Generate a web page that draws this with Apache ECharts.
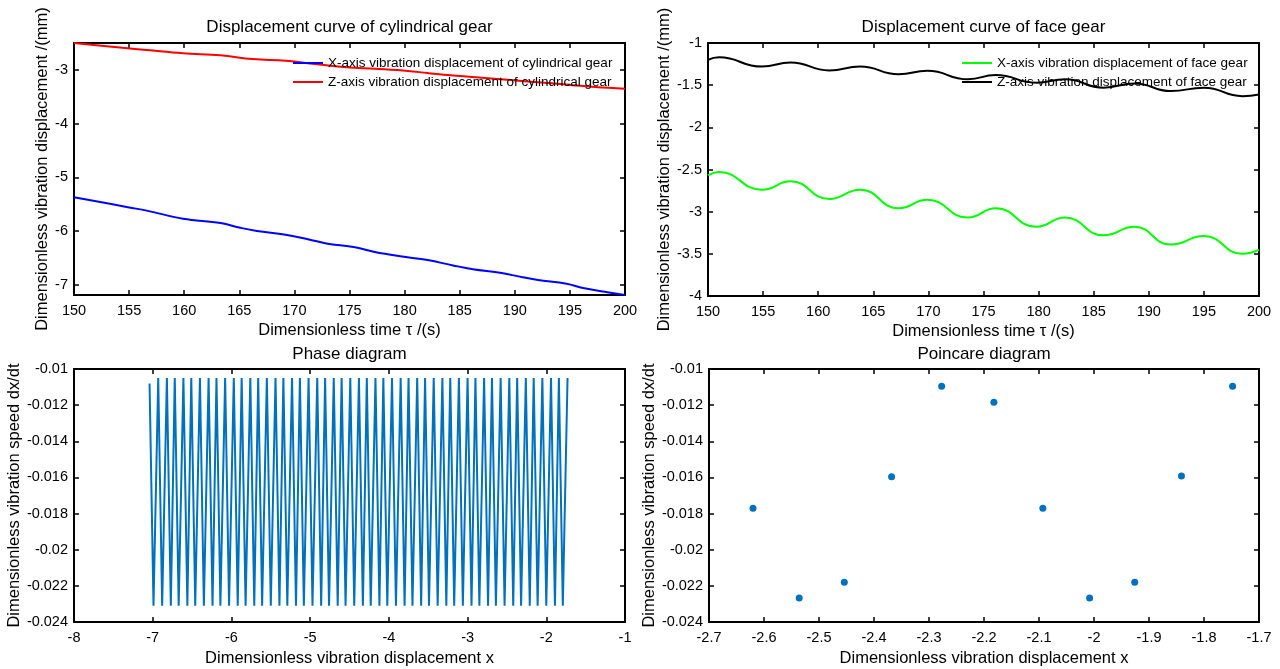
<!DOCTYPE html>
<html>
<head>
<meta charset="utf-8">
<script src="https://cdn.jsdelivr.net/npm/echarts@6/dist/echarts.min.js"></script>
<style>
html,body{margin:0;padding:0;background:#fff;}
#chart{width:1280px;height:669px;}
</style>
</head>
<body>
<div id="chart"></div>
<script>
// ---- Data ----
const cylZTime = [150,154.4,156.6,159.9,163.3,166.2,169.2,171.4,174.7,177.3,180.3,182.1,184.7,187.3,189.6,192.1,195.1,197.3,200];
const cylZ = [-2.5,-2.59,-2.63,-2.69,-2.73,-2.8,-2.83,-2.88,-2.95,-2.98,-3.02,-3.06,-3.11,-3.15,-3.19,-3.23,-3.28,-3.32,-3.35];
const cylXTime = [150,155.0,156.6,159.9,163.3,165.1,166.6,169.2,171.4,172.9,175.5,177.3,179.6,182.1,184.4,186.2,188.8,190.7,192.1,194.7,196.2,198.4,200];
const cylX = [-5.37,-5.56,-5.62,-5.77,-5.85,-5.94,-6.0,-6.07,-6.16,-6.23,-6.3,-6.39,-6.47,-6.54,-6.64,-6.71,-6.78,-6.86,-6.91,-6.98,-7.06,-7.14,-7.19];

const faceTime = [150,151.0,154.9,157.5,161.0,163.8,167.3,169.9,173.6,176.1,179.8,182.4,185.9,188.7,192.0,195.0,198.5,200];
const faceX = [-2.57,-2.53,-2.74,-2.64,-2.85,-2.74,-2.96,-2.86,-3.07,-2.96,-3.18,-3.07,-3.28,-3.18,-3.39,-3.29,-3.50,-3.45];
const faceZ = [-1.20,-1.17,-1.28,-1.23,-1.325,-1.28,-1.37,-1.33,-1.43,-1.38,-1.47,-1.43,-1.53,-1.48,-1.57,-1.53,-1.63,-1.61];

const phaseStart = [-7.04, -0.0108];
const phaseTopX = [-6.93,-6.82,-6.72,-6.61,-6.51,-6.40,-6.29,-6.19,-6.08,-5.97,-5.87,-5.76,-5.66,-5.55,-5.44,-5.34,-5.23,-5.13,-5.02,-4.91,-4.81,-4.70,-4.60,-4.49,-4.38,-4.28,-4.17,-4.07,-3.96,-3.85,-3.75,-3.64,-3.54,-3.43,-3.32,-3.22,-3.11,-3.00,-2.90,-2.79,-2.69,-2.58,-2.47,-2.37,-2.26,-2.16,-2.05,-1.94,-1.84,-1.73];
const phaseBottomX = [-6.99,-6.88,-6.77,-6.67,-6.56,-6.46,-6.35,-6.24,-6.14,-6.03,-5.92,-5.82,-5.71,-5.61,-5.50,-5.39,-5.29,-5.18,-5.08,-4.97,-4.86,-4.76,-4.65,-4.55,-4.44,-4.33,-4.23,-4.12,-4.02,-3.91,-3.80,-3.70,-3.59,-3.49,-3.38,-3.27,-3.17,-3.06,-2.95,-2.85,-2.74,-2.64,-2.53,-2.42,-2.32,-2.21,-2.11,-2.00,-1.89,-1.79];
const phaseTopY = -0.0105;
const phaseBottomY = -0.0231;

const poincareX = [-2.62,-2.536,-2.454,-2.368,-2.277,-2.182,-2.093,-2.008,-1.926,-1.841,-1.748];
const poincareY = [-0.0177,-0.02267,-0.0218,-0.01596,-0.01096,-0.01184,-0.0177,-0.02267,-0.0218,-0.01592,-0.01096];

const titles = ['Displacement curve of cylindrical gear','Displacement curve of face gear','Phase diagram','Poincare diagram'];
const legendCyl = ['X-axis vibration displacement of cylindrical gear','Z-axis vibration displacement of cylindrical gear'];
const legendFace = ['X-axis vibration displacement of face gear','Z-axis vibration displacement of face gear'];
const xNames = ['Dimensionless time \u03c4 /(s)','Dimensionless time \u03c4 /(s)','Dimensionless vibration displacement x','Dimensionless vibration displacement x'];
const yNames = ['Dimensionless vibration displacement /(mm)','Dimensionless vibration displacement /(mm)','Dimensionless vibration speed dx/dt','Dimensionless vibration speed dx/dt'];

// ---- Build ----
const zip = (a, b) => a.map((v, i) => [v, b[i]]);
const phaseData = [phaseStart];
for (let i = 0; i < phaseTopX.length; i++) {
  phaseData.push([phaseBottomX[i], phaseBottomY]);
  phaseData.push([phaseTopX[i], phaseTopY]);
}

const FONT = '"Liberation Sans", Arial, Helvetica, sans-serif';
const grids = [
  {left: 74, top: 43, width: 551, height: 252},
  {left: 708, top: 43, width: 551, height: 253},
  {left: 74, top: 369, width: 551, height: 253},
  {left: 709, top: 369, width: 550, height: 253}
];
const xRanges = [
  {min:150,max:200,interval:5},
  {min:150,max:200,interval:5},
  {min:-8,max:-1,interval:1},
  {min:-2.7,max:-1.7,interval:0.1}
];
const yRanges = [
  {min:-7.19,max:-2.5,splitNumber:5},
  {min:-4,max:-1,interval:0.5},
  {min:-0.024,max:-0.01,interval:0.002},
  {min:-0.024,max:-0.01,interval:0.002}
];
const yNameGaps = [22, 34, 50, 51];
const xNameGaps = [27, 27, 28, 28];

const lineAx = {onZero:false, lineStyle:{color:'#000', width:2}};
const tickAx = {inside:true, length:5, lineStyle:{color:'#000', width:1.5}};
const lblStyle = {fontSize:14.5, color:'#000', fontFamily:FONT};
const nameStyle = {fontSize:16.5, color:'#000', fontFamily:FONT};

const xAxes = [], yAxes = [];
for (let g = 0; g < 4; g++) {
  const xr = xRanges[g], yr = yRanges[g];
  xAxes.push(Object.assign({type:'value', gridIndex:g, position:'bottom', axisLine:lineAx, axisTick:tickAx,
    axisLabel:Object.assign({margin:8}, lblStyle), splitLine:{show:false},
    name:xNames[g], nameLocation:'middle', nameGap:xNameGaps[g], nameTextStyle:nameStyle}, xr));
  xAxes.push(Object.assign({type:'value', gridIndex:g, position:'top', axisLine:lineAx, axisTick:tickAx,
    axisLabel:{show:false}, splitLine:{show:false}}, xr));
  const yLbl = Object.assign({margin:6}, lblStyle);
  if (g === 0) { yLbl.showMinLabel = false; yLbl.showMaxLabel = false; }
  yAxes.push(Object.assign({type:'value', gridIndex:g, position:'left', axisLine:lineAx, axisTick:tickAx,
    axisLabel:yLbl, splitLine:{show:false},
    name:yNames[g], nameLocation:'middle', nameGap:yNameGaps[g], nameRotate:90, nameTextStyle:nameStyle}, yr));
  yAxes.push(Object.assign({type:'value', gridIndex:g, position:'right', axisLine:lineAx, axisTick:tickAx,
    axisLabel:{show:false}, splitLine:{show:false}}, yr));
}

const titleCenters = [[349.5,19],[983.5,19],[349.5,346],[984,346]];
const titleOpts = titles.map((t, i) => ({
  text: t, left: titleCenters[i][0], top: titleCenters[i][1], textAlign:'center', padding:0,
  textStyle:{fontSize:17, fontWeight:'normal', color:'#000', fontFamily:FONT}
}));

const legendCommon = {orient:'vertical', icon:'rect', itemWidth:30, itemHeight:2, itemGap:5, padding:0,
  textStyle:{fontSize:13.5, color:'#000', fontFamily:FONT, lineHeight:13}, selectedMode:false};

const option = {
  backgroundColor:'#fff',
  animation:false,
  title:titleOpts,
  grid:grids,
  xAxis:xAxes,
  yAxis:yAxes,
  legend:[
    Object.assign({data:legendCyl, left:293, top:56}, legendCommon),
    Object.assign({data:legendFace, left:962, top:56}, legendCommon)
  ],
  series:[
    {name:legendCyl[0], type:'line', xAxisIndex:0, yAxisIndex:0, data:zip(cylXTime, cylX), showSymbol:false, smooth:0.4,
      color:'#0000FF', lineStyle:{color:'#0000FF', width:2}},
    {name:legendCyl[1], type:'line', xAxisIndex:0, yAxisIndex:0, data:zip(cylZTime, cylZ), showSymbol:false, smooth:0.4,
      color:'#FF0000', lineStyle:{color:'#FF0000', width:2}},
    {name:legendFace[0], type:'line', xAxisIndex:2, yAxisIndex:2, data:zip(faceTime, faceX), showSymbol:false, smooth:0.5,
      color:'#00FF00', lineStyle:{color:'#00FF00', width:2}},
    {name:legendFace[1], type:'line', xAxisIndex:2, yAxisIndex:2, data:zip(faceTime, faceZ), showSymbol:false, smooth:0.5,
      color:'#000000', lineStyle:{color:'#000000', width:2}},
    {name:'phase', type:'line', xAxisIndex:4, yAxisIndex:4, data:phaseData, showSymbol:false,
      color:'#0072BD', lineStyle:{color:'#0072BD', width:2}},
    {name:'poincare', type:'scatter', xAxisIndex:6, yAxisIndex:6, data:zip(poincareX, poincareY), symbol:'circle', symbolSize:7,
      itemStyle:{color:'#0072BD', opacity:1}}
  ]
};

const chart = echarts.init(document.getElementById('chart'), null, {renderer:'canvas'});
chart.setOption(option);
</script>
</body>
</html>
